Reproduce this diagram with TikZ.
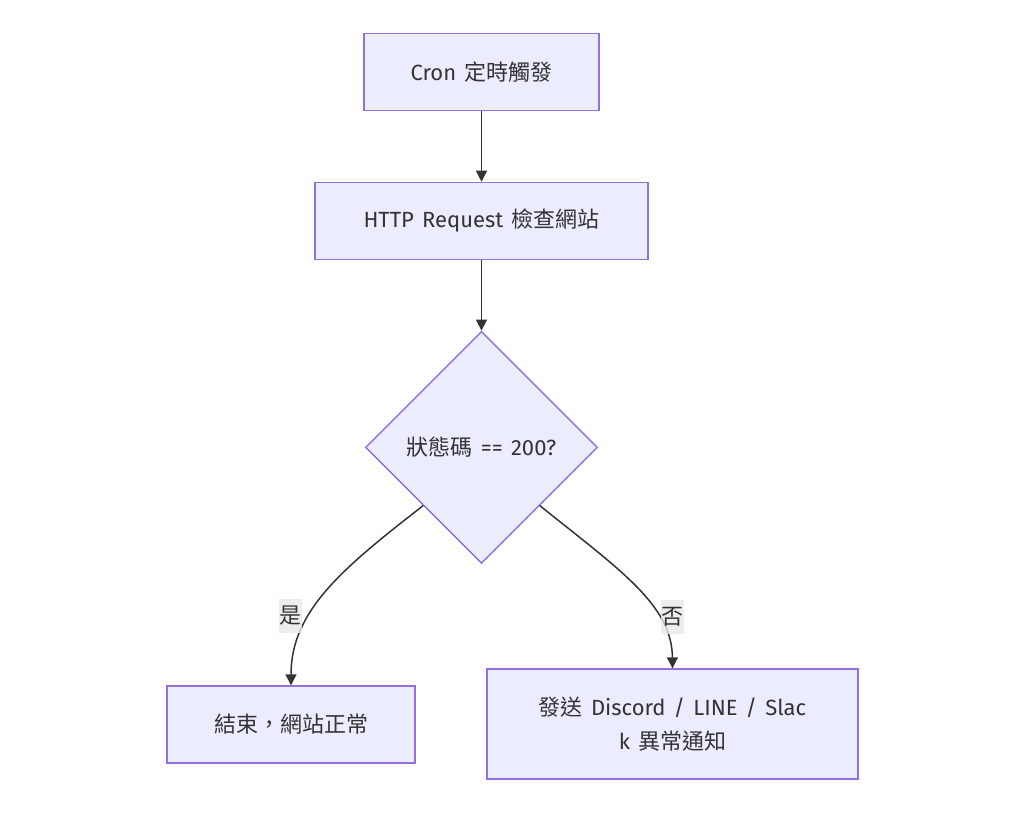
\documentclass[tikz,border=0pt]{standalone}
\usepackage{fontspec}
\setmainfont[WordSpace=1.4]{Fira Sans}
\newfontfamily\cjk{Noto Sans CJK TC}
\definecolor{MMFill}{HTML}{ECECFF}
\definecolor{MMBorder}{HTML}{9370DB}
\definecolor{MMLine}{HTML}{333333}
\definecolor{MMLabel}{HTML}{E8E8E8}
\usetikzlibrary{arrows.meta, positioning, shapes.geometric}

\begin{document}
\begin{tikzpicture}[
  x=1pt, y=-1pt,
  node distance=70.5pt,
  box/.style={
    rectangle, draw=MMBorder, fill=MMFill, line width=1.4pt,
    minimum height=77pt, inner sep=0pt, align=center,
    font=\fontsize{22}{34}\selectfont, text=MMLine
  },
  decision/.style={
    diamond, draw=MMBorder, fill=MMFill, line width=1.4pt,
    minimum width=232pt, minimum height=232pt, inner sep=0pt,
    font=\fontsize{22}{34}\selectfont, text=MMLine
  },
  arrow/.style={-{Triangle[length=11pt, width=11pt]}, line width=1.5pt, color=MMLine},
  edgelabel/.style={
    fill=MMLabel, fill opacity=0.8, text opacity=1, text=MMLine,
    inner xsep=0.5pt, inner ysep=0pt, minimum height=34pt,
    font=\cjk\fontsize{22}{34}\selectfont
  },
]
\useasboundingbox (0,0) rectangle (1024,823);

\node[box, minimum width=235pt] (cron) at (481.5,72) {Cron {\cjk 定時觸發}};
\node[box, minimum width=333pt, below=of cron] (http) {HTTP Request {\cjk 檢查網站}};
\node[decision, below=of http] (check) {{\cjk 狀態碼} == 200?};
\node[box, minimum width=248pt] (done) at (291,724.5) {\cjk 結束，網站正常};
\node[box, minimum width=371pt, minimum height=110pt] (notify) at (672.5,724)
  {{\cjk 發送} Discord / LINE / Slac\\k {\cjk 異常通知}};

\draw[arrow] (cron) -- (http);
\draw[arrow] (http) -- (check);
\draw[arrow] (check.south west) .. controls (340,570) and (291,612) .. (done.north);
\draw[arrow] (check.south east) .. controls (620,570) and (672,605) .. (notify.north);

% edge labels
\node[edgelabel] (yes) at (290.5,616) {是};
\node[edgelabel] (no) at (672,617) {否};
\end{tikzpicture}
\end{document}
